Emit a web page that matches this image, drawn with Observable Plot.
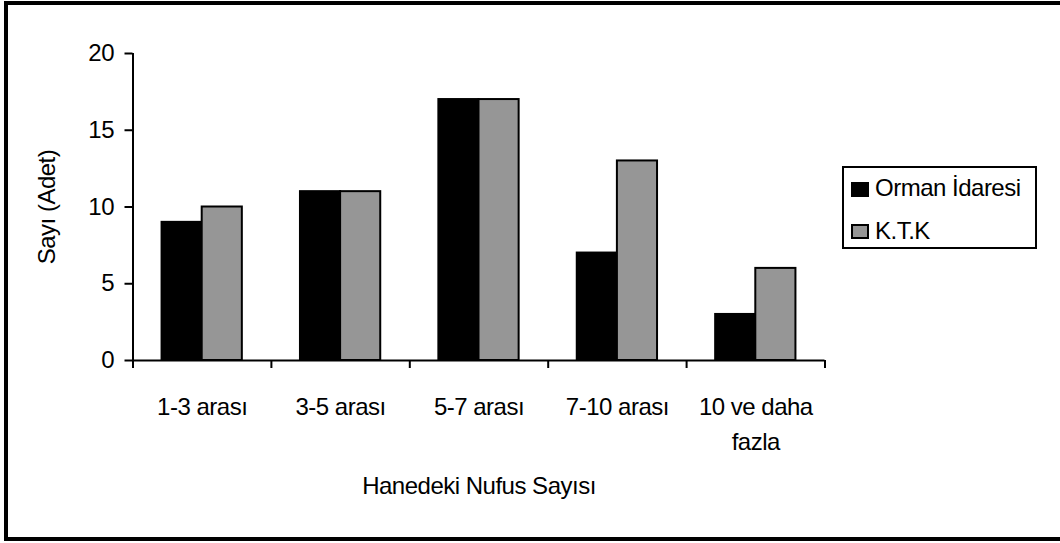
<!DOCTYPE html>
<html><head><meta charset="utf-8">
<script src="https://cdn.jsdelivr.net/npm/d3@7"></script>
<script src="https://cdn.jsdelivr.net/npm/@observablehq/plot@0.6"></script>
<style>
html,body{margin:0;padding:0;background:#fff;overflow:hidden;width:1060px;height:543px;}
#wrap{position:relative;width:1060px;height:543px;font-family:"Liberation Sans",Arial,sans-serif;}
#chart{position:absolute;left:0;top:0;}
#frame{position:absolute;left:4px;top:1px;width:1100px;height:532px;border:4px solid #000;pointer-events:none;}
#legend{position:absolute;left:842px;top:166px;width:191px;height:79px;border:2px solid #000;background:#fff;}
.sw{position:absolute;left:7px;width:18px;height:15px;box-sizing:border-box;border:2px solid #000;}
.lab{position:absolute;left:31px;font-size:24px;line-height:24px;letter-spacing:-0.5px;white-space:nowrap;color:#000;}
</style>
</head><body>
<div id="wrap"><div id="chart"></div><div id="legend"></div><div id="frame"></div></div>
<script>
const categories = ["1-3 arası", "3-5 arası", "5-7 arası", "7-10 arası", "10 ve daha\nfazla"];
const seriesNames = ["Orman İdaresi", "K.T.K"];
const ormanIdaresi = [9, 11, 17, 7, 3];
const ktk = [10, 11, 17, 13, 6];
const yTicks = [0, 5, 10, 15, 20];
const seriesColors = ["#000000", "#969696"];
const xTitle = "Hanedeki Nufus Sayısı";
const yTitle = "Sayı (Adet)";

const rows = [];
categories.forEach((c, i) => {
  rows.push({i, category: c, s: 0, series: seriesNames[0], value: ormanIdaresi[i]});
  rows.push({i, category: c, s: 1, series: seriesNames[1], value: ktk[i]});
});
const barStart = [0.21, 0.5], barEnd = [0.5, 0.79];
const boundaries = d3.range(categories.length + 1);

const chart = Plot.plot({
  width: 1060, height: 543,
  marginLeft: 132.5, marginRight: 235.5, marginTop: 53, marginBottom: 183,
  style: {fontFamily: '"Liberation Sans", Arial, sans-serif', fontSize: "24px", letterSpacing: "-0.5px", background: "transparent", color: "#000", overflow: "visible"},
  x: {domain: [0, categories.length]},
  y: {domain: [0, 20]},
  color: {domain: seriesNames, range: seriesColors},
  marks: [
    Plot.rectY(rows, {x1: d => d.i + barStart[d.s], x2: d => d.i + barEnd[d.s], y1: 0, y2: "value", fill: "series", stroke: "#000", strokeWidth: 2}),
    Plot.ruleY([0], {stroke: "#000", strokeWidth: 2}),
    Plot.ruleX([0], {y1: 0, y2: 20, stroke: "#000", strokeWidth: 2}),
    Plot.axisY({ticks: yTicks, tickSize: 8, tickPadding: 11, tickFormat: d => String(d), strokeWidth: 2, strokeOpacity: 1, label: null}),
    Plot.axisX({ticks: boundaries, tickSize: 8, tickFormat: () => "", strokeWidth: 2, strokeOpacity: 1, label: null}),
    Plot.text(categories, {x: (d, i) => i + 0.5, y: () => 0, dy: 30, lineAnchor: "top", lineHeight: 1.46, textAnchor: "middle"}),
    Plot.text([xTitle], {frameAnchor: "bottom", dy: 133, lineAnchor: "bottom", textAnchor: "middle"}),
    Plot.text([yTitle], {frameAnchor: "left", dx: -86, rotate: -90, lineAnchor: "middle", textAnchor: "middle"})
  ]
});
document.getElementById("chart").appendChild(chart);

const legend = document.getElementById("legend");
const swTops = [14, 56], labTops = [8.4, 51];
seriesNames.forEach((name, k) => {
  const sw = document.createElement("div");
  sw.className = "sw"; sw.style.top = swTops[k] + "px"; sw.style.background = seriesColors[k];
  const lab = document.createElement("div");
  lab.className = "lab"; lab.style.top = labTops[k] + "px"; lab.textContent = name;
  legend.appendChild(sw); legend.appendChild(lab);
});
</script>
</body></html>
